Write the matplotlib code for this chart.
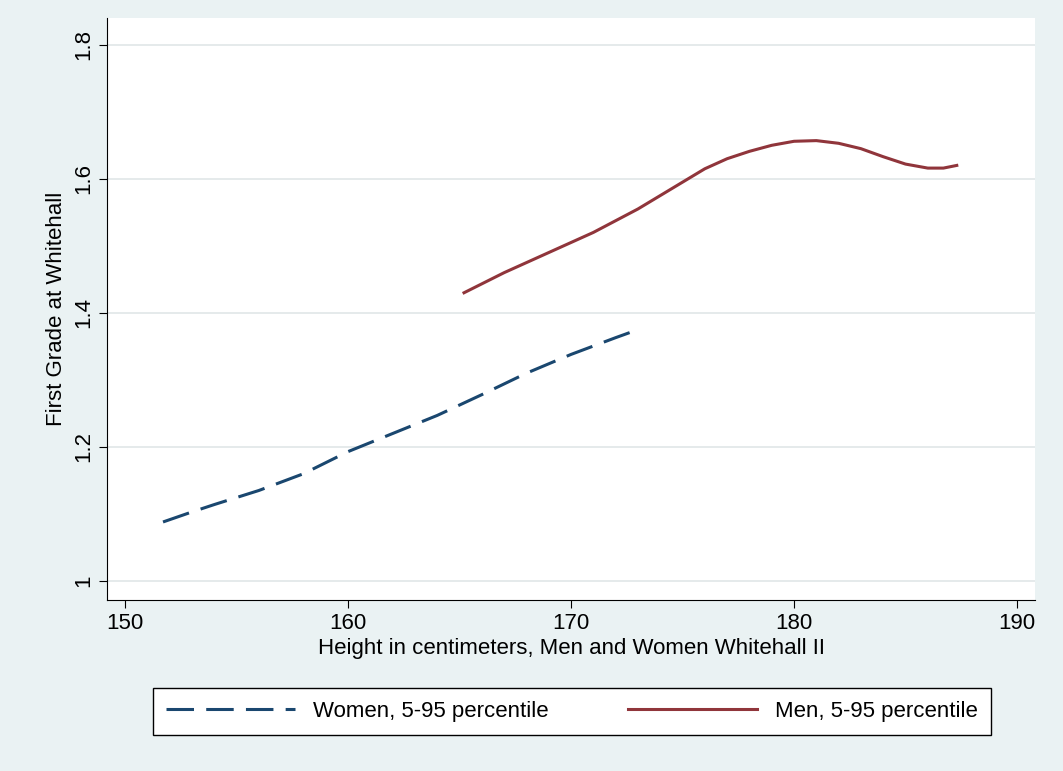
import matplotlib
matplotlib.use("Agg")
import matplotlib.pyplot as plt

plt.rcParams['font.family'] = ['Liberation Sans', 'DejaVu Sans']

women_x = [151.7, 153, 154, 156, 158, 160, 162, 164, 166, 168, 170, 172, 173]
women_y = [1.088, 1.103, 1.114, 1.135, 1.160, 1.193, 1.220, 1.247, 1.278, 1.310, 1.338, 1.363, 1.375]
men_x = [165.2, 167, 169, 171, 173, 175, 176, 177, 178, 179, 180, 181, 182, 183, 184, 185, 186, 186.7, 187.3]
men_y = [1.430, 1.460, 1.490, 1.520, 1.555, 1.595, 1.615, 1.630, 1.641, 1.650, 1.656, 1.657, 1.653, 1.645, 1.633, 1.622, 1.616, 1.616, 1.620]

bg = "#eaf2f3"
fig = plt.figure(figsize=(10.63, 7.71), dpi=100, facecolor=bg)
ax = fig.add_axes([0.1007, 0.2218, 0.873, 0.7549])
ax.set_facecolor("white")
ax.plot(women_x, women_y, color="#1a476f", lw=2.2, dashes=(9, 4), label="Women, 5-95 percentile")
ax.plot(men_x, men_y, color="#90353b", lw=2.2, label="Men, 5-95 percentile")
ax.set_xlim(149.19, 190.81)
ax.set_ylim(0.9716, 1.840)
ax.set_xticks([150, 160, 170, 180, 190])
ax.set_yticks([1, 1.2, 1.4, 1.6, 1.8])
ax.set_yticklabels(["1", "1.2", "1.4", "1.6", "1.8"], rotation=90, va="center")
ax.grid(axis="y", color="#e0e6e8", lw=1.2)
ax.set_axisbelow(True)
for s in ["top", "right"]:
    ax.spines[s].set_visible(False)
ax.tick_params(labelsize=16, length=6)
ax.set_xlabel("Height in centimeters, Men and Women Whitehall II", fontsize=16, labelpad=3)
ax.set_ylabel("First Grade at Whitehall", fontsize=16)
leg = fig.legend(loc="center", bbox_to_anchor=(0.538, 0.077), ncol=2, fontsize=16,
                 fancybox=False, edgecolor="black", framealpha=1, handlelength=5.8,
                 columnspacing=3.6, borderpad=0.6)
fig.savefig("out.png", facecolor=bg)
